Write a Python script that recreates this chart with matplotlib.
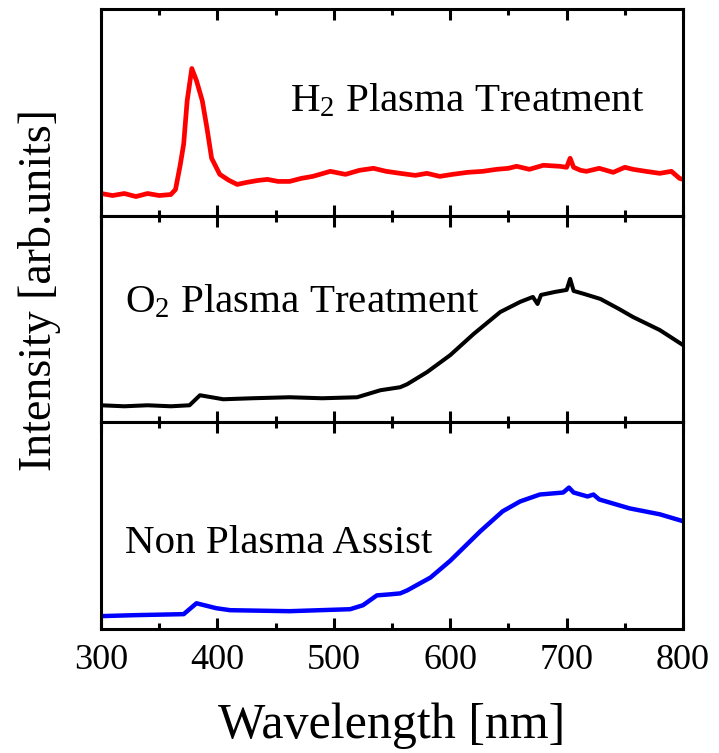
import numpy as np
import matplotlib.pyplot as plt
from matplotlib.ticker import MultipleLocator

plt.rcParams['font.family'] = ['Liberation Serif', 'DejaVu Serif']
plt.rcParams['mathtext.fontset'] = 'custom'
plt.rcParams['mathtext.rm'] = 'Liberation Serif'
plt.rcParams['mathtext.it'] = 'Liberation Serif:italic'

# H2 plasma treatment (arb. units)
wl_h2 = [300, 310, 320, 330, 340, 350, 360, 364, 368, 371, 374, 378, 382, 387,
         391, 395, 402, 410, 417, 425, 435, 443, 452, 462, 472, 482, 497, 510,
         522, 534, 545, 557, 570, 580, 591, 602, 615, 628, 640, 650, 657, 668,
         680, 694, 700, 703, 706, 712, 717, 728, 740, 750, 757, 768, 780, 790,
         797, 800]
int_h2 = [22, 20, 22, 19, 22, 20, 21, 26, 50, 71, 114, 146, 134, 114,
          87, 57, 41, 35, 31, 33, 35, 36, 34, 34, 37, 39, 44, 41,
          45, 47, 44, 42, 40, 42, 39, 41, 43, 44, 46, 47, 49, 46,
          50, 49, 48, 57, 48, 45, 44, 47, 43, 48, 46, 44, 42, 44,
          37, 36]

# O2 plasma treatment
wl_o2 = [300, 320, 340, 360, 376, 385, 395, 405, 430, 462, 490, 520, 540, 557,
         563, 580, 600, 620, 643, 660, 671, 675, 678, 690, 700, 703, 706, 715,
         729, 745, 757, 780, 800]
int_o2 = [17, 16, 17, 16, 17, 27, 25, 23, 24, 25, 24, 25, 32, 35,
          38, 50, 67, 88, 110, 120, 125, 118, 127, 130, 132, 143, 131, 128,
          123, 113, 105, 92, 77]

# non plasma assist
wl_np = [300, 330, 371, 382, 399, 411, 462, 514, 525, 537, 548, 557, 563, 583,
         600, 626, 645, 660, 677, 697, 702, 706, 718, 723, 728, 754, 780, 800]
int_np = [13, 14, 15, 26, 21, 19, 18, 20, 24, 34, 35, 36, 39, 52,
          69, 99, 119, 129, 136, 138, 143, 138, 134, 136, 131, 122, 116, 109]

panel_heights = [205, 206, 209]
labels = ['H$_2$ Plasma Treatment', 'O$_2$ Plasma Treatment', 'Non Plasma Assist']
label_pos = [(462, 104), (321, 110), (321, 77)]
colors = ['#ff0000', '#000000', '#0000ff']
widths = [3.4, 2.9, 3.2]
series = [(wl_h2, int_h2), (wl_o2, int_o2), (wl_np, int_np)]

fig, axes = plt.subplots(3, 1, figsize=(7.19, 7.53), dpi=100, sharex=True)
fig.subplots_adjust(left=0.1405, right=0.95, top=0.988, bottom=0.1647, hspace=0)

for i, ax in enumerate(axes):
    x, y = series[i]
    ax.plot(x, y, color=colors[i], lw=widths[i], solid_joinstyle='round')
    ax.set_xlim(300, 800)
    ax.set_ylim(0, panel_heights[i])
    ax.set_yticks([])
    ax.xaxis.set_major_locator(MultipleLocator(100))
    ax.xaxis.set_minor_locator(MultipleLocator(50))
    ax.tick_params(axis='x', which='major', direction='in', top=True, bottom=True,
                   length=8, width=2.2, labelsize=26, pad=11)
    ax.tick_params(axis='x', which='minor', direction='in', top=True, bottom=True,
                   length=4, width=2.2)
    for s in ax.spines.values():
        s.set_linewidth(2.2)
    ax.text(label_pos[i][0], label_pos[i][1], labels[i], fontsize=29.5,
            ha='left', va='baseline')

axes[2].set_xlabel('Wavelength [nm]', fontsize=36, labelpad=18)
fig.text(0.055, 0.615, 'Intensity [arb.units]', fontsize=33, rotation=90,
         ha='center', va='center')

plt.savefig('out.png', dpi=100)
